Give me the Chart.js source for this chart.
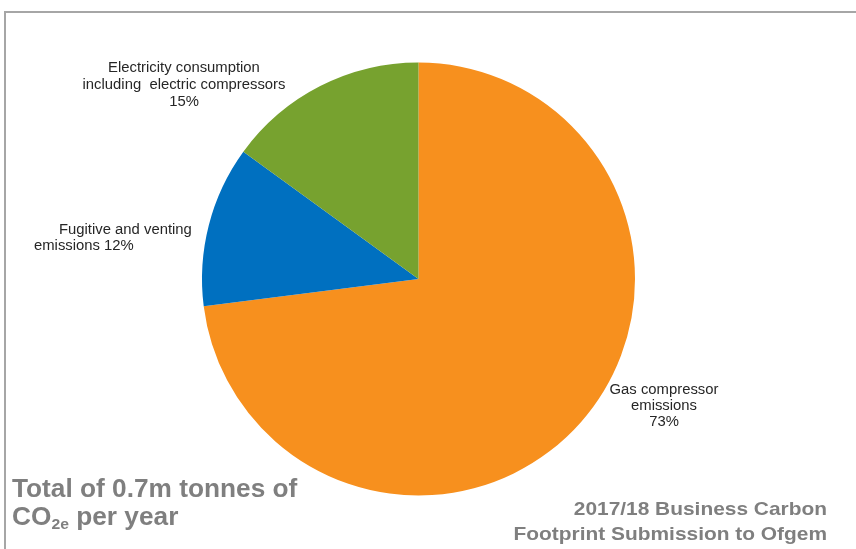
<!DOCTYPE html>
<html>
<head>
<meta charset="utf-8">
<script src="https://cdn.jsdelivr.net/npm/chart.js@4/dist/chart.umd.min.js"></script>
<style>
  html, body { margin: 0; padding: 0; background: #fff; }
  #wrap { width: 856px; height: 549px; }
</style>
</head>
<body>
<div id="wrap"><canvas id="co2Chart"></canvas></div>
<script>
// Data
const categories = ["Gas compressor emissions", "Fugitive and venting emissions", "Electricity consumption including electric compressors"];
const shares = [73, 12, 15];
const sliceColors = ["#F7901E", "#0070C0", "#77A22F"];

// label lines drawn next to each slice: [text, x, y, align]
const sliceLabels = [
  [["Gas compressor", 664, 390, "center"], ["emissions", 664, 406, "center"], ["73%", 664, 422, "center"]],
  [["Fugitive and venting", 59, 230, "left"], ["emissions 12%", 34, 246, "left"]],
  [["Electricity consumption", 184, 68, "center"], ["including  electric compressors", 184, 85, "center"], ["15%", 184, 102, "center"]]
];

const FONT = "'Liberation Sans', Arial, sans-serif";

// text a bit wider than plain Arial, like the original slide
function wideText(c, t, x, y, align, font, sx) {
  c.save();
  c.font = font;
  c.textAlign = align;
  c.translate(x, y);
  c.scale(sx, 1);
  c.fillText(t, 0, 0);
  c.restore();
}

// frame + captions
const decor = {
  id: "decor",
  beforeDraw(chart) {
    const c = chart.ctx;
    c.save();
    c.strokeStyle = "#A6A6A6";
    c.lineWidth = 2;
    c.beginPath();
    c.moveTo(5, 549);
    c.lineTo(5, 12);
    c.lineTo(856, 12);
    c.stroke();
    c.restore();
  },
  afterDraw(chart) {
    const c = chart.ctx;
    c.save();
    c.textBaseline = "middle";
    c.fillStyle = "#262626";
    sliceLabels.forEach(lines => {
      lines.forEach(([t, x, y, a]) => wideText(c, t, x, y, a, "14px " + FONT, 1.06));
    });

    // bottom-left total
    c.fillStyle = "#7F7F7F";
    c.textBaseline = "alphabetic";
    const big = "bold 25px " + FONT, small = "bold 15px " + FONT, sx = 1.05;
    wideText(c, "Total of 0.7m tonnes of", 12, 497, "left", big, sx);
    wideText(c, "CO", 12, 525, "left", big, sx);
    c.font = big;
    let x = 12 + c.measureText("CO").width * sx;
    wideText(c, "2e", x, 529, "left", small, sx);
    c.font = small;
    x += c.measureText("2e").width * sx;
    wideText(c, " per year", x, 525, "left", big, sx);

    // bottom-right source
    wideText(c, "2017/18 Business Carbon", 827, 515, "right", "bold 19px " + FONT, 1.1);
    wideText(c, "Footprint Submission to Ofgem", 827, 540, "right", "bold 19px " + FONT, 1.1);
    c.restore();
  }
};

const ctx = document.getElementById("co2Chart");
new Chart(ctx, {
  type: "pie",
  data: {
    labels: categories,
    datasets: [{
      data: shares,
      backgroundColor: sliceColors,
      borderWidth: 0
    }]
  },
  options: {
    responsive: true,
    maintainAspectRatio: false,
    animation: false,
    layout: { padding: { left: 202, right: 221, top: 62.5, bottom: 53.5 } },
    plugins: {
      legend: { display: false },
      tooltip: { enabled: false }
    }
  },
  plugins: [decor]
});
</script>
</body>
</html>
